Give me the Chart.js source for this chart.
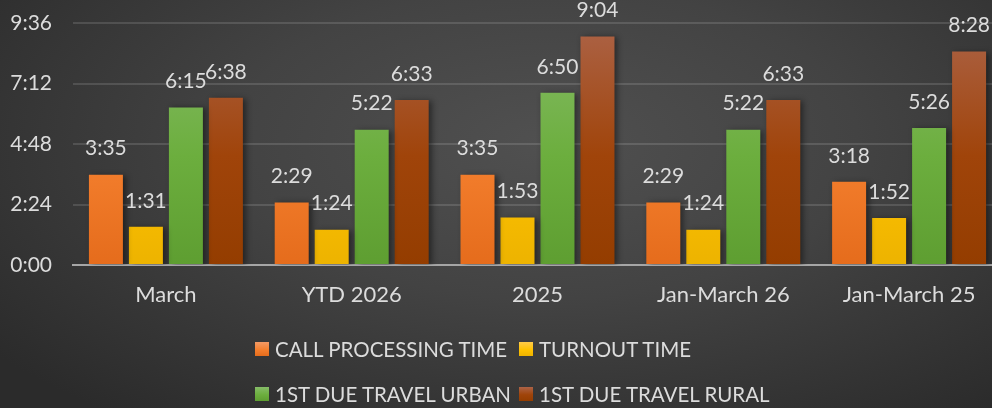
<!DOCTYPE html>
<html>
<head>
<meta charset="utf-8">
<script src="https://cdn.jsdelivr.net/npm/chart.js@4.4.1/dist/chart.umd.min.js"></script>
<style>
  html, body { margin: 0; padding: 0; width: 992px; height: 408px; overflow: hidden; }
  body { background: radial-gradient(ellipse 70% 85% at 55% 35%, #505050 0%, #434343 45%, #2b2b2b 100%); position: relative; font-family: Lato, sans-serif; }
  #wrap { position: absolute; left: 0; top: 0; width: 1010px; height: 408px; }
  #legend { position: absolute; left: 255px; top: 0; color: #dcdcdc; font-size: 20.5px; }
  .item { position: absolute; white-space: nowrap; display: flex; align-items: center; }
  .sw { width: 14px; height: 14px; margin-right: 6px; }
</style>
</head>
<body>
<div id="wrap"><canvas id="c" width="1010" height="408"></canvas></div>
<div id="legend"></div>
<script>
const categories = ["March", "YTD 2026", "2025", "Jan-March 26", "Jan-March 25"];
const seriesNames = ["CALL PROCESSING TIME", "TURNOUT TIME", "1ST DUE TRAVEL URBAN", "1ST DUE TRAVEL RURAL"];
// values in seconds
const callProcessing = [215, 149, 215, 149, 198];   // 3:35 2:29 3:35 2:29 3:18
const turnout        = [91, 84, 113, 84, 112];       // 1:31 1:24 1:53 1:24 1:52
const travelUrban    = [375, 322, 410, 322, 326];    // 6:15 5:22 6:50 5:22 5:26
const travelRural    = [398, 393, 544, 393, 508];    // 6:38 6:33 9:04 6:33 8:28
const yTicks = [0, 144, 288, 432, 576];              // 0:00 2:24 4:48 7:12 9:36

const gradStops = [
  ["#F39A66", "#F47F2E", "#E56C1C"],
  ["#FFCB4A", "#FFC200", "#EDB300"],
  ["#86BC68", "#6CAE3E", "#5E9E31"],
  ["#AC6347", "#A0440A", "#943D00"]
];

function fmt(s) {
  const m = Math.floor(s / 60), r = Math.round(s % 60);
  return m + ":" + (r < 10 ? "0" : "") + r;
}

function makeGrad(i) {
  return function(ctx) {
    const chart = ctx.chart;
    const area = chart.chartArea;
    if (!area) return gradStops[i][1];
    const el = ctx.element;
    let top = area.top;
    if (el && el.y !== undefined && !isNaN(el.y)) top = el.y;
    const bottom = area.bottom;
    if (!(bottom > top)) return gradStops[i][1];
    const g = chart.ctx.createLinearGradient(0, top, 0, bottom);
    g.addColorStop(0, gradStops[i][0]);
    g.addColorStop(0.55, gradStops[i][1]);
    g.addColorStop(1, gradStops[i][2]);
    return g;
  };
}

const seriesData = [callProcessing, turnout, travelUrban, travelRural];

const labelPlugin = {
  id: "valueLabels",
  beforeDatasetsDraw(chart) {
    chart.ctx.save();
    chart.ctx.shadowColor = "rgba(0,0,0,0.45)";
    chart.ctx.shadowBlur = 6;
    chart.ctx.shadowOffsetX = 3;
    chart.ctx.shadowOffsetY = 1;
  },
  afterDatasetsDraw(chart) {
    chart.ctx.restore();
    const ctx = chart.ctx;
    ctx.save();
    ctx.font = "21px Lato";
    ctx.fillStyle = "#dcdcdc";
    ctx.textAlign = "center";
    ctx.textBaseline = "middle";
    chart.data.datasets.forEach((ds, di) => {
      const meta = chart.getDatasetMeta(di);
      meta.data.forEach((el, i) => {
        ctx.fillText(fmt(ds.data[i]), el.x, el.y - 26);
      });
    });
    ctx.restore();
  }
};

new Chart(document.getElementById("c"), {
  type: "bar",
  data: {
    labels: categories,
    datasets: seriesNames.map((n, i) => ({
      label: n,
      data: seriesData[i],
      backgroundColor: makeGrad(i),
      borderWidth: 0,
      categoryPercentage: 0.861,
      barPercentage: 0.85
    }))
  },
  options: {
    responsive: false,
    animation: false,
    devicePixelRatio: 1,
    layout: { padding: { left: 8, right: 8, top: 23, bottom: 100 } },
    plugins: { legend: { display: false }, tooltip: { enabled: false } },
    scales: {
      x: {
        grid: { display: false, drawTicks: false },
        border: { color: "#a6a6a6", width: 2 },
        ticks: { color: "#dcdcdc", font: { family: "Lato", size: 22 }, padding: 17, maxRotation: 0 },
        afterFit(axis) { axis.height = 43; axis.paddingLeft = 0; axis.paddingRight = 0; }
      },
      y: {
        min: 0, max: 576,
        afterBuildTicks(axis) { axis.ticks = yTicks.map(v => ({ value: v })); },
        grid: { color: "rgba(255,255,255,0.13)", lineWidth: 2, drawTicks: false },
        border: { display: false },
        ticks: { color: "#dcdcdc", font: { family: "Lato", size: 21 }, padding: 21, callback: v => fmt(v) },
        afterFit(axis) { axis.width = 65; axis.paddingTop = 0; axis.paddingBottom = 0; }
      }
    }
  },
  plugins: [labelPlugin]
});

// legend (HTML, grid of 2 columns)
const legend = document.getElementById("legend");
const pos = [[0, 349], [264, 349], [0, 394], [264, 394]];
seriesNames.forEach((n, i) => {
  const d = document.createElement("div");
  d.className = "item";
  d.style.left = pos[i][0] + "px";
  d.style.top = (pos[i][1] - 13) + "px";
  d.style.height = "26px";
  const s = document.createElement("span");
  s.className = "sw";
  s.style.background = "linear-gradient(" + gradStops[i][0] + "," + gradStops[i][1] + " 55%," + gradStops[i][2] + ")";
  const t = document.createElement("span");
  t.textContent = n;
  d.appendChild(s); d.appendChild(t);
  legend.appendChild(d);
});
</script>
</body>
</html>
